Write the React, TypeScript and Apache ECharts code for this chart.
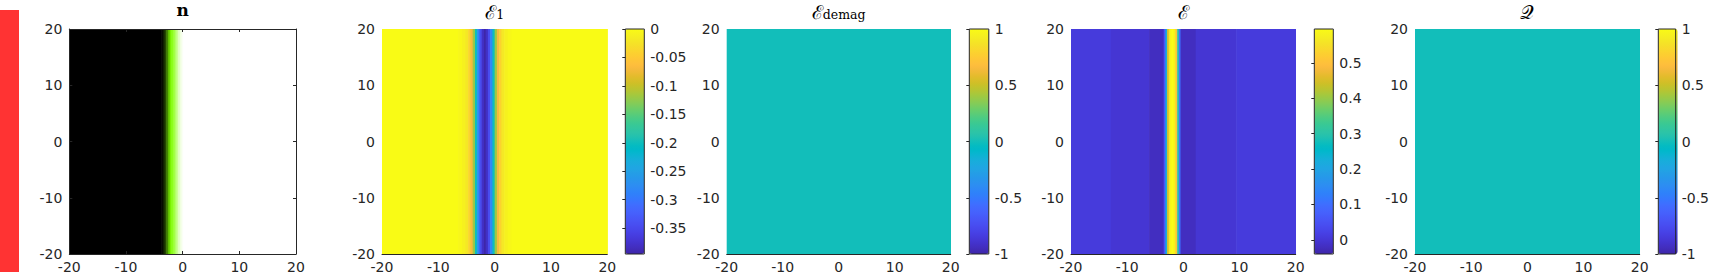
import React, { useEffect, useRef } from "react";
import * as echarts from "echarts";

// ---- data ----
const X_MIN = -20;
const X_MAX = 20;
const Y_MIN = -20;
const Y_MAX = 20;
const AXIS_INTERVAL = 10;

// n (out-of-plane component, -1 black .. 1 white)
const nEdges = [-20, -3.8, -3.5, -3.2, -2.9, -2.6, -2.3, -2.0, -1.7, -1.4, -1.1, -0.8, -0.5, -0.2, 0.1, 20];
const nValues = [-1, -0.97, -0.88, -0.72, -0.5, -0.25, -0.05, 0.1, 0.22, 0.4, 0.58, 0.75, 0.88, 0.96, 1];

// E1
const e1Edges = [-20, -6.5, -5.8, -5.2, -4.7, -4.3, -3.9, -3.5, -3.1, -2.7, -2.3, -1.9, -1.6, -1.2, -0.8, -0.4, 0.0, 0.4, 0.8, 1.2, 1.7, 2.3, 3.0, 20];
const e1Values = [0, -0.004, -0.01, -0.02, -0.04, -0.07, -0.12, -0.2, -0.28, -0.345, -0.38, -0.395, -0.38, -0.345, -0.28, -0.2, -0.12, -0.07, -0.04, -0.02, -0.01, -0.004, 0];

// E_demag
const demagEdges = [-20, 20];
const demagValues = [0];

// E
const eEdges = [-20, -12.9, -6.1, -3.5, -3.2, -2.9, -2.6, -2.3, -2.0, -1.7, -1.4, -1.1, -0.8, -0.5, 2.2, 9.4, 20];
const eValues = [0.008, -0.002, -0.02, 0.06, 0.22, 0.45, 0.57, 0.596, 0.596, 0.58, 0.5, 0.3, 0.1, -0.02, -0.002, 0.008];

// Q
const qEdges = [-20, 20];
const qValues = [0];

// colour ranges and colourbar ticks
const nRange = [-1, 1];
const e1Range = [-0.3956, 0];
const e1Ticks = [-0.35, -0.3, -0.25, -0.2, -0.15, -0.1, -0.05, 0];
const demagRange = [-1, 1];
const demagTicks = [-1, -0.5, 0, 0.5, 1];
const eRange = [-0.04, 0.596];
const eTicks = [0, 0.1, 0.2, 0.3, 0.4, 0.5];
const qRange = [-1, 1];
const qTicks = [-1, -0.5, 0, 0.5, 1];

// ---- styles ----
const PARULA = [
  "#3E26A8", "#402AB4", "#422EC0", "#4332CB", "#4537D5", "#463CDE", "#4741E5", "#4747EB",
  "#484DF0", "#4852F4", "#4758F8", "#465EFB", "#4563FD", "#4269FE", "#3E6FFF", "#3875FE",
  "#327CFC", "#2F81FA", "#2E87F7", "#2D8CF3", "#2B91EF", "#2796EB", "#259BE8", "#23A0E5",
  "#20A5E3", "#1CA9DF", "#18ADDB", "#12B1D6", "#08B5D0", "#01B8CA", "#02BAC3", "#0BBDBD",
  "#19BFB6", "#24C1AE", "#2CC4A7", "#31C69F", "#37C897", "#3FCA8E", "#4ACB84", "#57CC7A",
  "#64CD6F", "#72CD64", "#81CC59", "#8FCB4E", "#9DC943", "#ABC739", "#B9C431", "#C5C22A",
  "#D1BF27", "#DCBD29", "#E6BB2D", "#F0BA36", "#F8BA3D", "#FEBE3C", "#FEC338", "#FEC934",
  "#FCCF30", "#FAD62D", "#F7DC2A", "#F5E327", "#F5E924", "#F6EF20", "#F7F51B", "#F9FB15",
];
const N_COLORS = ["#000000", "#80FF00", "#FFFFFF"];
const AXIS_COLOR = "#262626";
const FONT = "DejaVu Sans";
const FONT_SIZE = 14;

const PLOT_TOP = 29;
const PLOT_HEIGHT = 225;
const PLOTS = [
  { left: 69.3, width: 226.7 },
  { left: 382, width: 225.3 },
  { left: 726.7, width: 224 },
  { left: 1071, width: 224.7 },
  { left: 1415, width: 224.7 },
];
const BARS = [
  null,
  { left: 625.3, width: 19 },
  { left: 969.3, width: 19.5 },
  { left: 1314.3, width: 19 },
  { left: 1658.3, width: 19.4 },
];

const panels = [
  { edges: nEdges, values: nValues, range: nRange, colors: N_COLORS, ticks: null },
  { edges: e1Edges, values: e1Values, range: e1Range, colors: PARULA, ticks: e1Ticks },
  { edges: demagEdges, values: demagValues, range: demagRange, colors: PARULA, ticks: demagTicks },
  { edges: eEdges, values: eValues, range: eRange, colors: PARULA, ticks: eTicks },
  { edges: qEdges, values: qValues, range: qRange, colors: PARULA, ticks: qTicks },
];

const fmt = (v: number | string) => String(v);

const labelStyle = {
  color: AXIS_COLOR,
  fontFamily: FONT,
  fontSize: FONT_SIZE,
};

function buildOption() {
  const grid: any[] = [];
  const xAxis: any[] = [];
  const yAxis: any[] = [];
  const series: any[] = [];
  const visualMap: any[] = [];

  PLOTS.forEach((p, i) => {
    grid.push({ left: p.left, top: PLOT_TOP, width: p.width, height: PLOT_HEIGHT, containLabel: false });
    const first = i === 0;
    xAxis.push({
      type: "value",
      gridIndex: i,
      min: X_MIN,
      max: X_MAX,
      interval: AXIS_INTERVAL,
      z: 5,
      splitLine: { show: false },
      axisLine: { show: true, onZero: false, lineStyle: { color: AXIS_COLOR, width: 1 } },
      axisTick: { show: first, inside: true, length: 3, lineStyle: { color: AXIS_COLOR } },
      axisLabel: { ...labelStyle, margin: 6, formatter: fmt },
    });
    yAxis.push({
      type: "value",
      gridIndex: i,
      min: Y_MIN,
      max: Y_MAX,
      interval: AXIS_INTERVAL,
      z: 5,
      splitLine: { show: false },
      axisLine: { show: first, onZero: false, lineStyle: { color: AXIS_COLOR, width: 1 } },
      axisTick: { show: first, inside: true, length: 3, lineStyle: { color: AXIS_COLOR } },
      axisLabel: { ...labelStyle, margin: 7, formatter: fmt },
    });
  });

  // mirrored box axes for the first panel
  xAxis.push({
    type: "value",
    gridIndex: 0,
    position: "top",
    min: X_MIN,
    max: X_MAX,
    interval: AXIS_INTERVAL,
    z: 5,
    splitLine: { show: false },
    axisLine: { show: true, onZero: false, lineStyle: { color: AXIS_COLOR, width: 1 } },
    axisTick: { show: true, inside: true, length: 3, lineStyle: { color: AXIS_COLOR } },
    axisLabel: { show: false },
  });
  yAxis.push({
    type: "value",
    gridIndex: 0,
    position: "right",
    min: Y_MIN,
    max: Y_MAX,
    interval: AXIS_INTERVAL,
    z: 5,
    splitLine: { show: false },
    axisLine: { show: true, onZero: false, lineStyle: { color: AXIS_COLOR, width: 1 } },
    axisTick: { show: true, inside: true, length: 3, lineStyle: { color: AXIS_COLOR } },
    axisLabel: { show: false },
  });

  // colourbar axes
  BARS.forEach((b, i) => {
    if (!b) return;
    const gi = grid.length;
    grid.push({
      left: b.left,
      top: PLOT_TOP,
      width: b.width,
      height: PLOT_HEIGHT,
      show: true,
      z: 10,
      backgroundColor: "transparent",
      borderColor: AXIS_COLOR,
      borderWidth: 1,
    });
    xAxis.push({ type: "value", gridIndex: gi, min: 0, max: 1, show: false });
    const pr = panels[i];
    yAxis.push({
      type: "value",
      gridIndex: gi,
      position: "right",
      min: pr.range[0],
      max: pr.range[1],
      z: 10,
      splitLine: { show: false },
      axisLine: { show: false },
      axisTick: {
        show: true,
        inside: true,
        length: 3,
        lineStyle: { color: AXIS_COLOR },
        customValues: pr.ticks,
      },
      axisLabel: { ...labelStyle, margin: 6, formatter: fmt, customValues: pr.ticks },
    });
  });

  const renderStrip = (params: any, api: any) => {
    const a = api.coord([api.value(0), Y_MAX]);
    const b = api.coord([api.value(1), Y_MIN]);
    return {
      type: "rect",
      shape: { x: a[0], y: a[1], width: b[0] - a[0] + 0.6, height: b[1] - a[1] },
      style: { fill: api.visual("color") },
    };
  };

  panels.forEach((pr, i) => {
    const data = pr.values.map((v, k) => [pr.edges[k], pr.edges[k + 1], v]);
    series.push({
      type: "custom",
      xAxisIndex: i,
      yAxisIndex: i,
      silent: true,
      clip: true,
      dimensions: ["x0", "x1", "value"],
      encode: { x: [0, 1], tooltip: 2 },
      renderItem: renderStrip,
      data,
    });
    const b = BARS[i];
    visualMap.push({
      type: "continuous",
      seriesIndex: i,
      dimension: 2,
      min: pr.range[0],
      max: pr.range[1],
      inRange: { color: pr.colors },
      show: !!b,
      calculable: false,
      hoverLink: false,
      orient: "vertical",
      left: b ? b.left : 0,
      top: PLOT_TOP,
      itemWidth: b ? b.width : 10,
      itemHeight: PLOT_HEIGHT,
      padding: 0,
      text: null,
      z: 4,
    });
  });

  const serif = "DejaVu Serif";
  const centers = PLOTS.map((p) => p.left + p.width / 2);
  const graphic: any[] = [
    {
      type: "rect",
      shape: { x: 0, y: 10, width: 19, height: 262 },
      style: { fill: "#FF3333" },
    },
    {
      type: "text",
      x: centers[0],
      y: 10.4,
      style: {
        text: "n",
        fontFamily: serif,
        fontWeight: "bold",
        fontSize: 17,
        lineHeight: 16,
        fill: "#000",
        align: "center",
        verticalAlign: "middle",
      },
    },
  ];
  const richStyle = {
    e: { fontFamily: serif, fontSize: 19, lineHeight: 18, fill: "#000" },
    s: { fontFamily: serif, fontSize: 12.5, lineHeight: 6, verticalAlign: "bottom", fill: "#000" },
  };
  const titles = ["{e|\u2130}{s|1}", "{e|\u2130}{s|demag}", "{e|\u2130}", "{e|\uD835\uDCAC}"];
  titles.forEach((t, k) => {
    graphic.push({
      type: "text",
      x: centers[k + 1],
      y: 11.6,
      style: { text: t, rich: richStyle, align: "center", verticalAlign: "middle" },
    });
  });

  return {
    animation: false,
    backgroundColor: "#FFFFFF",
    grid,
    xAxis,
    yAxis,
    series,
    visualMap,
    graphic,
  };
}

export default function App() {
  const ref = useRef<HTMLDivElement>(null);
  useEffect(() => {
    if (!ref.current) return;
    const chart = echarts.init(ref.current, undefined, { renderer: "svg" });
    chart.setOption(buildOption() as any);
    return () => chart.dispose();
  }, []);
  return (
    <div
      ref={ref}
      style={{ position: "absolute", left: 0, top: 0, width: 1712, height: 277 }}
    />
  );
}
